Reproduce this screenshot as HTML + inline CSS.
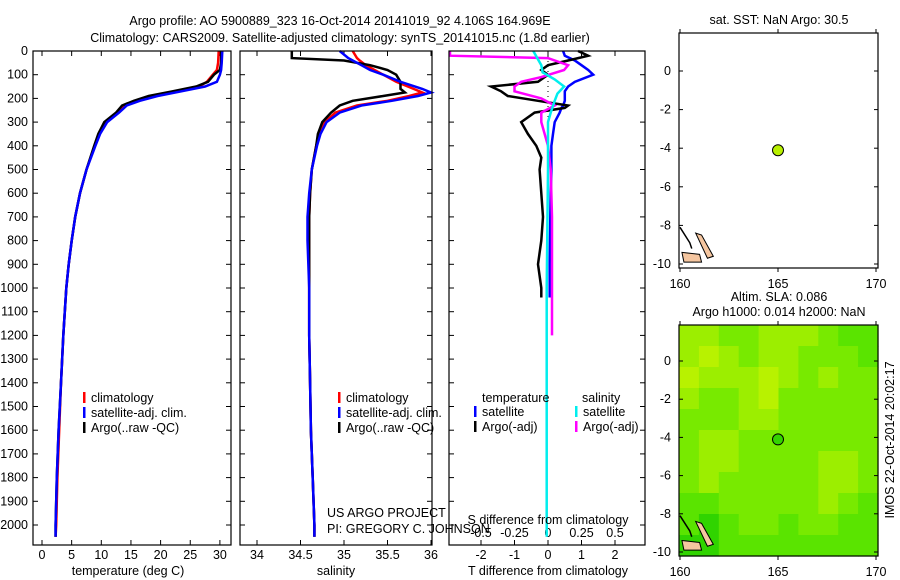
<!DOCTYPE html>
<html><head><meta charset="utf-8"><style>
body{margin:0;background:#fff}
svg{display:block;font-family:"Liberation Sans",sans-serif;font-size:12.5px}
</style></head><body>
<svg id="c" width="900" height="580" viewBox="0 0 900 580">
<text x="340" y="25" text-anchor="middle">Argo profile: AO 5900889_323 16-Oct-2014 20141019_92 4.106S 164.969E</text>
<text x="340" y="42" text-anchor="middle">Climatology: CARS2009. Satellite-adjusted climatology: synTS_20141015.nc (1.8d earlier)</text>
<g id="g"></g>
</svg>
<script>
// ---- data ----
const depthT=[0,50,80,100,130,150,170,190,210,230,260,300,350,400,500,600,700,800,900,1000,1200,1400,1600,1800,2000,2050];
const tempArgo=[30.2,30.2,30.0,29.0,28.0,26.0,22.0,18.0,15.5,13.5,12.5,10.5,9.5,8.8,7.5,6.4,5.6,5.0,4.5,4.1,3.6,3.2,2.8,2.5,2.3,2.3];
const tempClim=[29.8,29.7,29.5,28.8,27.8,26.5,22.5,18.5,16.0,14.0,12.8,10.8,9.6,8.9,7.5,6.4,5.6,5.0,4.5,4.1,3.6,3.2,2.9,2.6,2.4,2.3];
const tempSat=[30.4,30.3,30.2,30.0,29.5,27.5,23.5,19.5,16.5,14.3,13.0,11.0,9.8,9.0,7.5,6.4,5.6,5.0,4.5,4.1,3.6,3.2,2.8,2.5,2.3,2.3];
const depthS=[0,30,40,60,80,100,130,160,175,190,210,230,260,300,350,400,500,600,700,800,1000,1200,1400,1600,1800,2000,2050];
const salArgo=[34.4,34.4,35.0,35.3,35.5,35.6,35.65,35.65,35.7,35.45,35.1,34.95,34.85,34.75,34.7,34.68,34.63,34.61,34.6,34.6,34.6,34.6,34.61,34.62,34.64,34.66,34.66];
const salClim=[35.1,35.15,35.18,35.25,35.35,35.45,35.6,35.8,35.9,35.75,35.5,35.15,34.9,34.78,34.72,34.68,34.63,34.61,34.6,34.6,34.6,34.6,34.61,34.62,34.64,34.66,34.66];
const salSat=[34.95,35.05,35.1,35.2,35.3,35.45,35.65,35.9,36.0,35.85,35.55,35.2,34.95,34.8,34.73,34.69,34.63,34.6,34.58,34.58,34.6,34.6,34.61,34.62,34.64,34.66,34.66];
const depthD=[0,20,40,60,80,100,130,150,170,190,210,230,240,260,300,350,400,450,500,600,700,800,900,1000,1040];
const dTSat=[0.45,0.5,0.8,1.0,1.2,1.35,0.8,0.6,0.5,0.5,0.5,0.45,0.4,0.35,0.2,0.15,0.1,0.1,0.1,0.08,0.07,0.06,0.05,0.05,0.05];
const dTArgo=[0.9,1.2,0.6,0.0,-0.2,0.0,-0.3,-1.7,-1.4,-1.2,-0.3,0.6,0.5,-0.4,-0.8,-0.6,-0.35,-0.2,-0.25,-0.2,-0.15,-0.2,-0.3,-0.2,-0.2];
const depthSD=[0,20,30,60,80,110,130,150,170,200,230,260,300,400,500,700,900,1100,1200];
const dSArgo=[-0.8,-0.8,0.0,0.15,0.12,-0.05,-0.2,-0.25,-0.25,-0.05,0.05,-0.05,-0.05,0.0,0.02,0.03,0.03,0.03,0.03];
const depthSS=[0,30,60,90,120,150,180,210,260,300,500,1000,2050];
const dSSat=[-0.11,-0.08,-0.05,-0.04,0.05,0.12,0.07,0.05,0.02,0.0,0.0,-0.01,-0.01];
const depthTicks=[0,100,200,300,400,500,600,700,800,900,1000,1100,1200,1300,1400,1500,1600,1700,1800,1900,2000];
const tempTicks=[0,5,10,15,20,25,30];
const salTicks=[34,34.5,35,35.5,36];
const dTTicks=[-2,-1,0,1,2];
const dSTicks=[-0.5,-0.25,0,0.25,0.5];
const latTicks=[0,-2,-4,-6,-8,-10];
const lonTicks=[160,165,170];
const floatLon=165.0, floatLat=-4.106;
// ---- scales ----
const yD=d=>51+d*0.237;
const xT=t=>42+t*5.93;
const xS=s=>257+(s-34)*87;
const xDT=t=>548+t*33.5;
const xDS=s=>548+s*134;
const NS='http://www.w3.org/2000/svg';
const G=document.getElementById('g');
function el(tag,at,txt){const e=document.createElementNS(NS,tag);for(const k in at)e.setAttribute(k,at[k]);if(txt!==undefined)e.textContent=txt;G.appendChild(e);return e;}
function line(depths,vals,xf,col,name,minX){
  const lo=minX||0;
  const pts=depths.map((d,i)=>Math.min(Math.max(xf(vals[i]),lo),900).toFixed(1)+','+yD(d).toFixed(1)).join(' ');
  const e=el('polyline',{points:pts,fill:'none',stroke:col,'stroke-width':2.5});
  
  
}
function frame(x0,x1,y0,y1,name){
  const e=el('rect',{x:x0,y:y0,width:x1-x0,height:y1-y0,fill:'none',stroke:'#000','stroke-width':1.2});
  
  
}
function txt(x,y,s,anchor,name){
  const e=el('text',{x:x,y:y,'text-anchor':anchor||'start'},s);
  
  
  return e;
}
const panels=[[33,231],[240,432],[449,645]];
depthTicks.forEach(d=>{
  const y=yD(d);
  txt(28,y+4,String(d),'end','depth-tick-label');
  panels.forEach(p=>{el('line',{x1:p[0],x2:p[0]+5,y1:y,y2:y,stroke:'#000'});el('line',{x1:p[1]-5,x2:p[1],y1:y,y2:y,stroke:'#000'});});
});
// panel 1
tempTicks.forEach(t=>{const x=xT(t);el('line',{x1:x,x2:x,y1:545,y2:540,stroke:'#000'});el('line',{x1:x,x2:x,y1:51,y2:56,stroke:'#000'});txt(x,559,String(t),'middle','temp-tick-label');});
line(depthT,tempClim,xT,'#f00','temp-climatology-line');
line(depthT,tempArgo,xT,'#000','temp-argo-line');
line(depthT,tempSat,xT,'#00f','temp-satellite-line');
frame(33,231,51,545,'temperature-panel-frame');
txt(128,575,'temperature (deg C)','middle','temperature-axis-title');
// panel 2
salTicks.forEach(s=>{const x=xS(s);el('line',{x1:x,x2:x,y1:545,y2:540,stroke:'#000'});el('line',{x1:x,x2:x,y1:51,y2:56,stroke:'#000'});txt(x,559,String(s),'middle','salinity-tick-label');});
line(depthS,salClim,xS,'#f00','sal-climatology-line');
line(depthS,salArgo,xS,'#000','sal-argo-line');
line(depthS,salSat,xS,'#00f','sal-satellite-line');
frame(240,432,51,545,'salinity-panel-frame');
txt(336,575,'salinity','middle','salinity-axis-title');
// panel 3
dTTicks.forEach(t=>{const x=xDT(t);el('line',{x1:x,x2:x,y1:545,y2:540,stroke:'#000'});el('line',{x1:x,x2:x,y1:51,y2:56,stroke:'#000'});txt(x,559,String(t),'middle','tdiff-tick-label');});
dSTicks.forEach(s=>txt(xDS(s),537,String(s),'middle','sdiff-tick-label'));
el('line',{x1:548,x2:548,y1:51,y2:140,stroke:'#000','stroke-dasharray':'1,4'});
line(depthD,dTSat,xDT,'#00f','tdiff-satellite-line',450);
line(depthD,dTArgo,xDT,'#000','tdiff-argo-line',450);
line(depthSD,dSArgo,xDS,'#f0f','sdiff-argo-line',450);
line(depthSS,dSSat,xDS,'#0ee','sdiff-satellite-line',450);
frame(449,645,51,545,'difference-panel-frame');
txt(548,524,'S difference from climatology','middle','sdiff-axis-title');
txt(548,575,'T difference from climatology','middle','tdiff-axis-title');
// legends
function leg(x,y,col,s,name){el('rect',{x:x,y:y-10,width:2.5,height:11,fill:col});txt(x+8,y,s,'start',name);}
leg(83,402,'#f00','climatology','legend-climatology');
leg(83,417,'#00f','satellite-adj. clim.','legend-satellite-adj');
leg(83,432,'#000','Argo(..raw -QC)','legend-argo');
leg(338,402,'#f00','climatology','legend-climatology-2');
leg(338,417,'#00f','satellite-adj. clim.','legend-satellite-adj-2');
leg(338,432,'#000','Argo(..raw -QC)','legend-argo-2');
txt(482,402,'temperature','start','legend-temperature-heading');
txt(582,402,'salinity','start','legend-salinity-heading');
leg(474,416,'#00f','satellite','legend-t-satellite');
leg(474,431,'#000','Argo(-adj)','legend-t-argo');
leg(575,416,'#0ee','satellite','legend-s-satellite');
leg(575,431,'#f0f','Argo(-adj)','legend-s-argo');
txt(327,517,'US ARGO PROJECT','start','project-credit');
txt(327,533,'PI: GREGORY C. JOHNSON','start','pi-credit');
// ---- maps ----
const greens=[[3,3,2,2,3,3,3,2,1,1],[3,4,3,2,3,3,2,2,2,1],[4,3,3,3,4,3,2,3,2,2],[3,2,2,3,4,2,2,2,2,2],[2,2,2,3,3,2,2,2,2,2],[2,3,3,2,2,2,2,2,2,2],[2,3,3,2,2,2,2,3,3,2],[2,3,2,2,2,2,2,3,3,2],[1,1,2,2,2,2,2,3,2,1],[1,0,1,2,2,1,2,2,1,1],[0,0,1,1,1,1,1,1,1,1]];
const gcol=['#30d400','#5ae400','#78ea00','#9cee00','#b8f200'];
function map(y0,y1,lat0y,dot,name,withField){
  const x0=679,x1=878;
  const lx=lon=>680+(lon-160)*19.6;
  const ly=lat=>lat0y+(-lat)*(((y1-4)-lat0y)/10);
  if(withField){
    const rows=greens.length,cols=greens[0].length,cw=(x1-x0)/cols,ch=(y1-y0)/rows;
    greens.forEach((r,i)=>r.forEach((v,j)=>{el('rect',{x:x0+j*cw,y:y0+i*ch,width:cw+0.6,height:ch+0.6,fill:gcol[v]});}));
  }
  el('path',{d:`M${lx(160.1)},${ly(-9.4)} L${lx(161)},${ly(-9.5)} L${lx(161.1)},${ly(-9.9)} L${lx(160.2)},${ly(-9.9)} Z`,fill:'#f5c6a0',stroke:'#000'});
  el('path',{d:`M${lx(160.8)},${ly(-8.4)} L${lx(161.1)},${ly(-8.5)} L${lx(161.7)},${ly(-9.6)} L${lx(161.4)},${ly(-9.7)} Z`,fill:'#f5c6a0',stroke:'#000'});
  el('path',{d:`M${lx(160.0)},${ly(-8.1)} L${lx(160.5)},${ly(-8.9)} L${lx(160.6)},${ly(-9.2)}`,fill:'none',stroke:'#000','stroke-width':1.5});
  const c=el('circle',{cx:lx(floatLon),cy:ly(floatLat),r:5.5,fill:dot,stroke:'#000'});
  
  
  frame(x0,x1,y0,y1,name);
  latTicks.forEach(l=>{const y=ly(l);el('line',{x1:x0,x2:x0+4,y1:y,y2:y,stroke:'#000'});el('line',{x1:x1-4,x2:x1,y1:y,y2:y,stroke:'#000'});txt(x0-8,y+4,String(l),'end','lat-tick-label');});
  lonTicks.forEach(l=>{const x=lx(l);el('line',{x1:x,x2:x,y1:y0,y2:y0-4,stroke:'#000'});el('line',{x1:x,x2:x,y1:y1,y2:y1+4,stroke:'#000'});txt(x,y1+20,String(l),'middle','lon-tick-label');});
}
map(33,268,71,'#b8f000','sst-map-frame',false);
map(325,556,361,'#33d400','sla-map-frame',true);
txt(779,24,'sat. SST: NaN Argo: 30.5','middle','sst-map-title');
txt(779,301,'Altim. SLA: 0.086','middle','sla-map-title');
txt(779,316,'Argo h1000: 0.014 h2000: NaN','middle','sla-map-subtitle');
const v=txt(0,0,'IMOS 22-Oct-2014 20:02:17','middle','imos-timestamp');
v.setAttribute('transform','translate(894,440) rotate(-90)');
</script>
</body></html>
